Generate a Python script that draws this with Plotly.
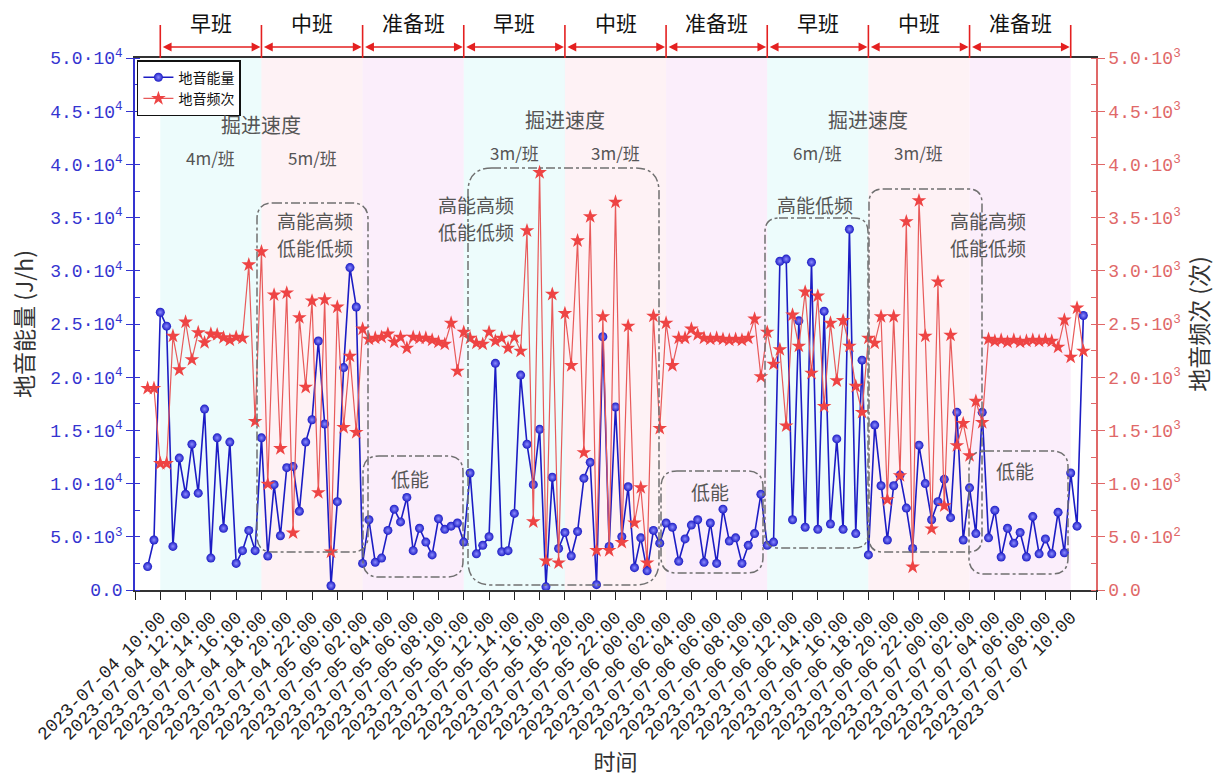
import plotly.graph_objects as go
import pandas as pd

# ---------------- data (half-hourly, 2023-07-04 09:00 .. 2023-07-07 11:00) ----------------
start_time = "2023-07-04 09:00"
energy = [2200, 4700, 26100, 24800, 4100, 12400, 9000, 13700, 9100, 17000,
          3000, 14300, 5800, 13900, 2500, 3700, 5600, 3700, 14300, 3200,
          9900, 5100, 11500, 11600, 7400, 13900, 16000, 23400, 15600, 400,
          8300, 20900, 30300, 26600, 2500, 6600, 2600, 3000, 5600, 7600,
          6400, 8700, 3700, 5800, 4500, 3300, 6700, 5700, 6000, 6300,
          4500, 11000, 3400, 4200, 5000, 21300, 3600, 3700, 7200, 20200,
          13700, 9900, 15100, 300, 10600, 3900, 5400, 3200, 5500, 10500,
          12000, 500, 23800, 4100, 17200, 5000, 9700, 2100, 4900, 1800,
          5600, 4400, 6300, 5900, 2700, 4800, 6100, 6600, 2600, 6300,
          2500, 7600, 4600, 4900, 2500, 4200, 5300, 9000, 4200, 4500,
          30900, 31100, 6600, 25300, 5900, 30800, 5700, 26200, 6200, 14200,
          5700, 33900, 5300, 21600, 3300, 15500, 9800, 4700, 9800, 10800,
          7700, 3900, 13600, 10000, 6600, 8300, 10400, 6800, 16700, 4700,
          9600, 5300, 16700, 4900, 7500, 3100, 5800, 4400, 5400, 3100,
          6900, 3400, 4800, 3400, 7300, 3500, 11000, 6000, 25800]
frequency = [1896, 1896, 1189, 1189, 2387, 2070, 2519, 2165, 2420, 2325,
             2406, 2400, 2372, 2349, 2377, 2368, 3057, 1585, 3179, 995,
             2774, 1330, 2792, 538, 2560, 1906, 2717, 915, 2730, 358,
             2660, 1528, 2198, 1481, 2453, 2358, 2368, 2377, 2406, 2330,
             2377, 2274, 2377, 2368, 2368, 2349, 2330, 2311, 2509, 2057,
             2424, 2368, 2321, 2311, 2424, 2340, 2368, 2274, 2377, 2245,
             3377, 642, 3924, 274, 2780, 255, 2600, 2110, 3283, 1292,
             3509, 372, 2570, 372, 3646, 448, 2481, 632, 962, 255,
             2575, 1519, 2509, 2110, 2368, 2368, 2453, 2400, 2368, 2358,
             2368, 2358, 2349, 2358, 2349, 2368, 2547, 2005, 2424, 2123,
             2260, 1543, 2585, 2292, 2802, 2038, 2764, 1726, 2509, 1967,
             2533, 2292, 1915, 1670, 2368, 2321, 2570, 849, 2570, 1075,
             3462, 217, 3660, 2387, 575, 2896, 792, 2396, 1358, 1566,
             1264, 1774, 1575, 2358, 2340, 2349, 2330, 2349, 2330, 2340,
             2349, 2340, 2349, 2340, 2283, 2538, 2189, 2651, 2245]
times = pd.date_range(start_time, periods=len(energy), freq="30min")

shift_names = ["早班", "中班", "准备班", "早班", "中班", "准备班", "早班", "中班", "准备班"]
shift_bounds = pd.date_range("2023-07-04 10:00", periods=len(shift_names) + 1, freq="8h")
speed_groups = [("掘进速度", "4m/班", "5m/班"), ("掘进速度", "3m/班", "3m/班"), ("掘进速度", "6m/班", "3m/班")]


def sci(v):
    if v == 0:
        return "0.0"
    e = 0
    m = float(v)
    while m >= 10:
        m /= 10
        e += 1
    return f"{m:.1f}·10<sup>{e}</sup>"


left_ticks = [0, 5000, 10000, 15000, 20000, 25000, 30000, 35000, 40000, 45000, 50000]
left_text = [sci(v) for v in left_ticks]
right_ticks = [0, 500, 1000, 1500, 2000, 2500, 3000, 3500, 4000, 4500, 5000]
right_text = [sci(v) for v in right_ticks]

x_ticks = pd.date_range("2023-07-04 08:00", "2023-07-07 12:00", freq="2h")
x_text = [t.strftime("%Y-%m-%d %H:%M") for t in x_ticks]
x_text[0] = " "
x_text[-1] = " "

# ---------------- style ----------------
BLUE = "#1c1cc4"
BLUE_AX = "#3434d0"
RED = "#ee4444"
RED_LINE = "#e85a5a"
RED_AX = "#e06868"
GRAY = "#555555"
TICKFONT = "Liberation Mono"
CJK = "Noto Sans CJK SC"
shade = {"早班": "rgba(222,250,250,0.55)", "中班": "rgba(253,232,236,0.55)", "准备班": "rgba(248,226,248,0.6)"}

W, H = 1229, 780
L, R, T, B = 135, 1096, 58, 590


def px(x):
    return (x - L) / (R - L)


def py(y):
    return (B - y) / (B - T)


fig = go.Figure()
fig.add_trace(go.Scatter(
    x=times, y=energy, name="地音能量", mode="lines+markers",
    line=dict(color=BLUE, width=1.6),
    marker=dict(symbol="circle", size=9, color=BLUE,
                gradient=dict(type="radial", color="#8c8cff"), line=dict(width=0)),
    yaxis="y"))
fig.add_trace(go.Scatter(
    x=times, y=frequency, name="地音频次", mode="lines+markers",
    line=dict(color=RED_LINE, width=1.2),
    marker=dict(symbol="star", size=11, color=RED, line=dict(width=0)),
    yaxis="y2"))

shapes = []
annotations = []


def label(text, x, y, size, color=GRAY, xref="paper"):
    annotations.append(dict(xref=xref, yref="paper", x=x, y=y, text=text, showarrow=False,
                            xanchor="center", yanchor="middle",
                            font=dict(family=CJK, size=size, color=color)))


# shift shading + top arrows
for i, name in enumerate(shift_names):
    x0, x1 = shift_bounds[i], shift_bounds[i + 1]
    shapes.append(dict(type="rect", xref="x", yref="paper", x0=x0, x1=x1, y0=0, y1=1,
                       fillcolor=shade[name], line=dict(width=0), layer="below"))
    annotations.append(dict(xref="x", yref="paper", x=x1, y=py(47), axref="x", ayref="pixel",
                            ax=x0, ay=0, text="", showarrow=True, arrowside="end+start",
                            arrowhead=2, arrowsize=1.1, arrowwidth=1.6, arrowcolor="#e42020",
                            standoff=1, startstandoff=1))
    label(name, x0 + (x1 - x0) / 2, py(22), 21, "#111111", xref="x")
for b in shift_bounds:
    shapes.append(dict(type="line", xref="x", yref="paper", x0=b, x1=b, y0=1, y1=py(25),
                       line=dict(color="#e42020", width=1.6)))

# driving speed text
speed_y = [(124, 157), (119, 152), (119, 152)]
for g, (title, s1, s2) in enumerate(speed_groups):
    b0 = shift_bounds[3 * g]
    b1 = shift_bounds[3 * g + 1]
    b2 = shift_bounds[3 * g + 2]
    ty, sy = speed_y[g]
    label(title, b1, py(ty), 20, xref="x")
    label(s1, b0 + (b1 - b0) / 2, py(sy), 17, xref="x")
    label(s2, b1 + (b2 - b1) / 2, py(sy), 17, xref="x")

# dash-dot rounded boxes (pixel layout positions)
boxes = [(257, 203, 368, 552, 16), (363, 456, 463, 577, 16), (468, 168, 659, 585, 24),
         (661, 471, 763, 573, 16), (765, 218, 868, 548, 14), (869, 189, 982, 552, 14),
         (969, 451, 1068, 574, 16)]
for (bx0, by0, bx1, by1, r) in boxes:
    x0, x1 = px(bx0), px(bx1)
    yt, yb = py(by0), py(by1)
    rx, ry = r / (R - L), r / (B - T)
    path = (f"M {x0+rx},{yt} L {x1-rx},{yt} Q {x1},{yt} {x1},{yt-ry} "
            f"L {x1},{yb+ry} Q {x1},{yb} {x1-rx},{yb} L {x0+rx},{yb} "
            f"Q {x0},{yb} {x0},{yb+ry} L {x0},{yt-ry} Q {x0},{yt} {x0+rx},{yt} Z")
    shapes.append(dict(type="path", xref="paper", yref="paper", path=path,
                       line=dict(color="#707070", width=1.5, dash="dashdot"), layer="above"))

box_labels = [("高能高频", 315, 220), ("低能低频", 315, 248),
              ("高能高频", 476, 204), ("低能低频", 476, 232),
              ("高能低频", 815, 205),
              ("高能高频", 988, 220), ("低能低频", 988, 248),
              ("低能", 410, 478), ("低能", 710, 491), ("低能", 1015, 470)]
for txt, lx, ly in box_labels:
    label(txt, px(lx), py(ly), 19)

fig.update_layout(
    width=W, height=H,
    margin=dict(l=L, r=W - R, t=T, b=H - B),
    paper_bgcolor="white", plot_bgcolor="white",
    showlegend=True,
    legend=dict(x=0.002, y=0.996, xanchor="left", yanchor="top",
                bgcolor="white", bordercolor="#111111", borderwidth=1.5,
                font=dict(family=CJK, size=14, color="#111111"),
                tracegroupgap=0, itemwidth=30),
    xaxis=dict(
        range=[x_ticks[0], x_ticks[-1]], tickmode="array", tickvals=x_ticks, ticktext=x_text,
        tickangle=-45, tickfont=dict(family=TICKFONT, size=18, color="#222222"),
        ticks="outside", ticklen=8, tickcolor="#222222", showgrid=False, zeroline=False,
        showline=True, linecolor="#333333", linewidth=1.5, mirror=True,
        title=dict(text="时间", font=dict(family=CJK, size=22, color="#333333"), standoff=8)),
    yaxis=dict(
        range=[0, 50000], tickmode="array", tickvals=left_ticks, ticktext=left_text,
        tickfont=dict(family=TICKFONT, size=18, color=BLUE_AX),
        ticks="outside", ticklen=7, tickcolor=BLUE_AX, showgrid=False, zeroline=False,
        showline=True, linecolor=BLUE_AX, linewidth=1.5,
        minor=dict(dtick=2500, ticks="inside", ticklen=5, tickcolor=BLUE_AX),
        title=dict(text="地音能量 (J/h)", font=dict(family=CJK, size=23, color="#333333"), standoff=10)),
    yaxis2=dict(
        range=[0, 5000], overlaying="y", side="right", tickmode="array",
        tickvals=right_ticks, ticktext=right_text,
        tickfont=dict(family=TICKFONT, size=18, color=RED_AX),
        ticks="outside", ticklen=7, tickcolor=RED_AX, showgrid=False, zeroline=False,
        showline=True, linecolor=RED_AX, linewidth=1.5,
        minor=dict(dtick=250, ticks="inside", ticklen=5, tickcolor=RED_AX),
        title=dict(text="地音频次 (次)", font=dict(family=CJK, size=23, color="#333333"), standoff=10)),
    shapes=shapes, annotations=annotations,
)

fig.write_html("out.html")
